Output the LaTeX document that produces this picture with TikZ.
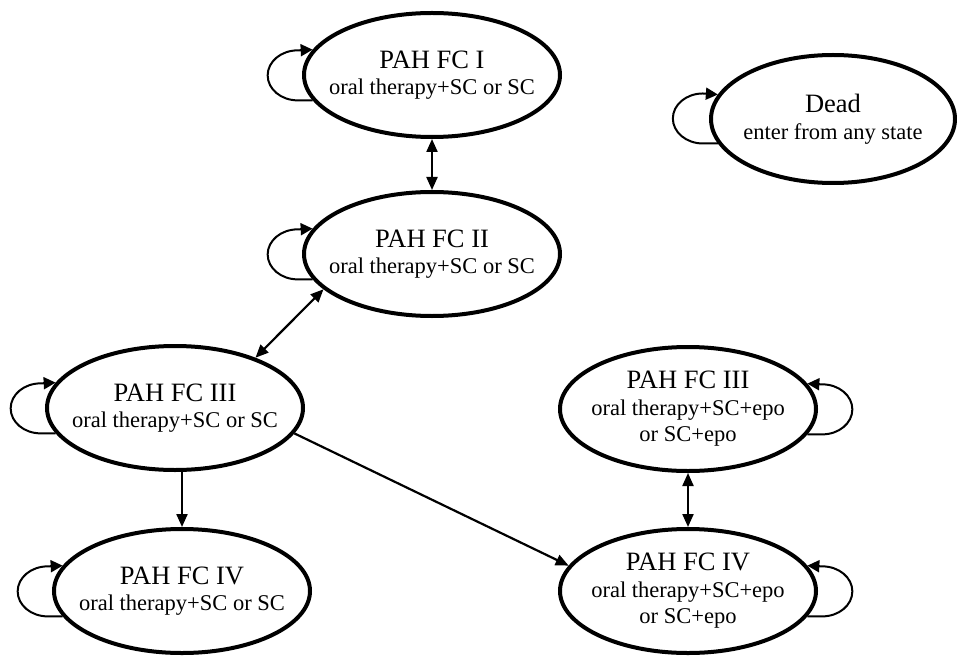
\documentclass[tikz,border=0pt]{standalone}
\usepackage{fontspec}
\setmainfont{Liberation Serif}
\usetikzlibrary{shapes.geometric,arrows.meta}
\begin{document}
\begin{tikzpicture}[x=1pt,y=1pt,
  st/.style={ellipse,draw,line width=4pt,minimum width=256pt,minimum height=124pt,inner sep=0pt},
  txt/.style={align=center,inner sep=0pt,font=\fontsize{22.5}{26.5}\selectfont},
  conn/.style={line width=2.2pt,{Triangle[length=13pt,width=11pt]}-{Triangle[length=13pt,width=11pt]}},
  oneway/.style={line width=2.2pt,-{Triangle[length=13pt,width=11pt]}},
  loopline/.style={line width=2pt,-{Triangle[length=12pt,width=12pt]}}
]
\useasboundingbox (0,0) rectangle (957,657);
\newcommand{\ttl}[1]{{\fontsize{26.5}{26.5}\selectfont #1}}

\node[st] (n1) at (432,582) {};
\node[txt] (t1) at (n1.center) {\ttl{PAH FC I}\\oral therapy+SC or SC};
\node[st] (n2) at (432,403) {};
\node[txt] (t2) at (n2.center) {\ttl{PAH FC II}\\oral therapy+SC or SC};
\node[st,minimum width=244pt,minimum height=128pt] (nd) at (833,538) {};
\node[txt] (td) at (nd.center) {\ttl{Dead}\\enter from any state};
\node[st] (n3) at (175,249) {};
\node[txt] (t3) at (n3.center) {\ttl{PAH FC III}\\oral therapy+SC or SC};
\node[st] (n4) at (182,66) {};
\node[txt] (t4) at (n4.center) {\ttl{PAH FC IV}\\oral therapy+SC or SC};
\node[st] (r3) at (688,248) {};
\node[txt] (tr3) at (r3.center) {\ttl{PAH FC III}\\oral therapy+SC+epo\\or SC+epo};
\node[st] (r4) at (688,66) {};
\node[txt] (tr4) at (r4.center) {\ttl{PAH FC IV}\\oral therapy+SC+epo\\or SC+epo};

% self loops (left side)
\foreach \n in {n1,n2,nd,n3,n4}{
  \draw[loopline] (\n.192) -- ++(-15,0) arc[start angle=270,end angle=90,x radius=30,y radius=25] -- (\n.168);
}
% self loops (right side)
\foreach \n in {r3,r4}{
  \draw[loopline] (\n.348) -- ++(15,0) arc[start angle=270,end angle=450,x radius=30,y radius=25] -- (\n.12);
}

% transitions
\draw[conn] (n1.south) -- (n2.north);
\draw[conn] (n2.198) -- (n3.32);
\draw[oneway] (n3.south -| n4.north) -- (n4.north);
\draw[oneway] (n3.348) -- (r4.168);
\draw[conn] (r3.south) -- (r4.north);
\end{tikzpicture}
\end{document}
